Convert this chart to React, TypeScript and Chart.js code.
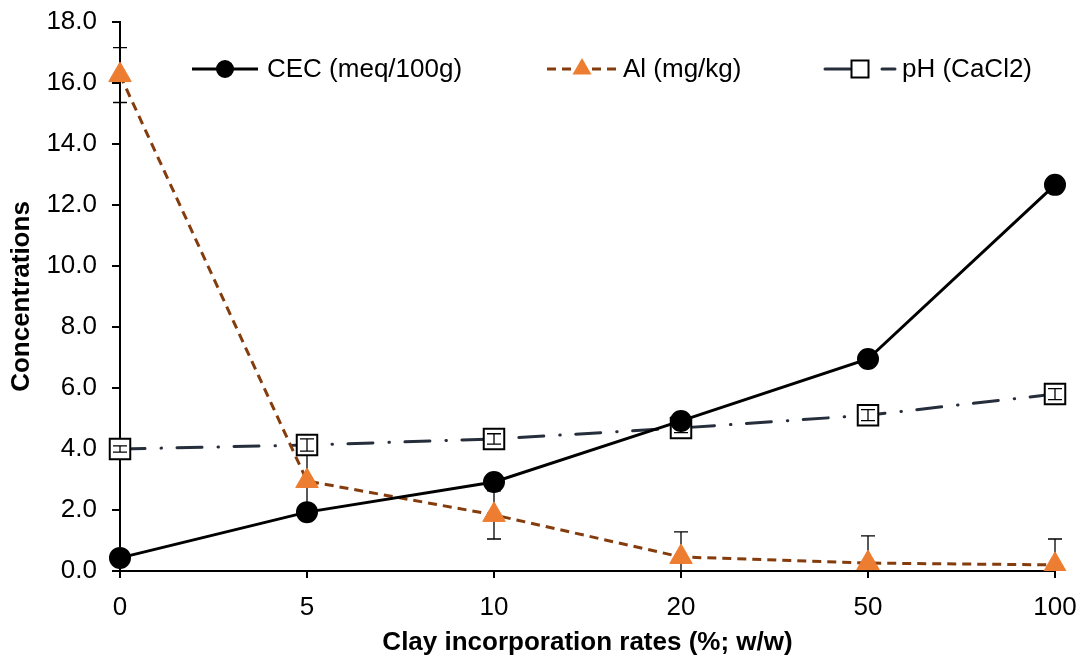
import React, { useEffect, useRef } from "react";
import { Chart, registerables } from "chart.js";

Chart.register(...registerables);

const categories = ["0", "5", "10", "20", "50", "100"];
const cecValues = [0.43, 1.93, 2.92, 4.92, 6.95, 12.66];
const cecErrors = [0.1, 0.1, 0.1, 0.1, 0.1, 0.1];
const alValues = [16.26, 2.95, 1.84, 0.46, 0.26, 0.2];
const alErrors = [0.9, 0.9, 0.79, 0.82, 0.89, 0.85];
const phValues = [4.0, 4.13, 4.33, 4.69, 5.11, 5.8];
const phErrors = [0.1, 0.2, 0.17, 0.15, 0.18, 0.18];
const seriesNames = ["CEC (meq/100g)", "Al (mg/kg)", "pH (CaCl2)"];
const yTicks = { min: 0, max: 18, step: 2 };
const yTitle = "Concentrations";
const xTitle = "Clay incorporation rates (%; w/w)";

const FONT = "'Liberation Sans', Arial, sans-serif";
const FS = 26;

const errorArrays = [cecErrors, alErrors, phErrors];

function drawErrors(chart: any, which: number[]) {
  const { ctx, chartArea, scales } = chart;
  const x = scales.x;
  const y = scales.y;
  ctx.save();
  ctx.beginPath();
  ctx.rect(chartArea.left - 10, chartArea.top - 10, chartArea.right - chartArea.left + 20, chartArea.bottom - chartArea.top + 10);
  ctx.clip();
  ctx.strokeStyle = "#000";
  ctx.lineWidth = 1.3;
  chart.data.datasets.forEach((ds: any, di: number) => {
    if (!which.includes(di)) return;
    const errs = errorArrays[di];
    ds.data.forEach((v: number, i: number) => {
      const e = errs[i];
      const px = x.getPixelForValue(i);
      const top = y.getPixelForValue(v + e);
      const bot = y.getPixelForValue(v - e);
      const cap = 7;
      ctx.beginPath();
      ctx.moveTo(px, top);
      ctx.lineTo(px, bot);
      ctx.moveTo(px - cap, top);
      ctx.lineTo(px + cap, top);
      ctx.moveTo(px - cap, bot);
      ctx.lineTo(px + cap, bot);
      ctx.stroke();
    });
  });
  ctx.restore();
}

const errorBarPlugin = {
  id: "errorBars",
  beforeDatasetsDraw(chart: any) {
    drawErrors(chart, [0, 1]);
  },
  afterDatasetsDraw(chart: any) {
    drawErrors(chart, [2]);
  },
};

const legendPlugin = {
  id: "customLegend",
  afterDraw(chart: any) {
    const { ctx } = chart;
    const yL = 69;
    const items = [
      { x0: 192, x1: 258, text: 267 },
      { x0: 547, x1: 617, text: 623 },
      { x0: 825, x1: 895, text: 902 },
    ];
    chart.data.datasets.forEach((ds: any, di: number) => {
      const it = items[di];
      ctx.save();
      ctx.strokeStyle = ds.borderColor;
      ctx.lineWidth = ds.borderWidth;
      ctx.lineCap = ds.borderCapStyle || "butt";
      ctx.setLineDash(ds.borderDash || []);
      ctx.beginPath();
      ctx.moveTo(it.x0, yL);
      ctx.lineTo(it.x1, yL);
      ctx.stroke();
      ctx.setLineDash([]);
      const cx = (it.x0 + it.x1) / 2;
      ctx.fillStyle = ds.pointBackgroundColor;
      ctx.strokeStyle = ds.pointBorderColor;
      ctx.lineWidth = ds.pointBorderWidth;
      if (ds.pointStyle === "circle") {
        ctx.beginPath();
        ctx.arc(cx, yL, 8, 0, Math.PI * 2);
        ctx.fill();
        ctx.stroke();
      } else if (ds.pointStyle === "triangle") {
        const r = 11;
        ctx.beginPath();
        ctx.moveTo(cx, yL - r);
        ctx.lineTo(cx + r * 0.866, yL + r * 0.5);
        ctx.lineTo(cx - r * 0.866, yL + r * 0.5);
        ctx.closePath();
        ctx.fill();
      } else {
        const s = 8.5;
        ctx.fillStyle = "#fff";
        ctx.fillRect(cx - s, yL - s, 2 * s, 2 * s);
        ctx.strokeRect(cx - s, yL - s, 2 * s, 2 * s);
      }
      ctx.fillStyle = "#000";
      ctx.font = `${FS}px ${FONT}`;
      ctx.textBaseline = "middle";
      ctx.textAlign = "left";
      ctx.fillText(seriesNames[di], it.text, yL + 1);
      ctx.restore();
    });
  },
};

export default function App() {
  const ref = useRef<HTMLCanvasElement | null>(null);
  useEffect(() => {
    if (!ref.current) return;
    const chart = new Chart(ref.current, {
      type: "line",
      data: {
        labels: categories,
        datasets: [
          {
            label: seriesNames[0],
            data: cecValues,
            borderColor: "#000000",
            borderWidth: 3,
            pointStyle: "circle",
            pointRadius: 10,
            pointBackgroundColor: "#000000",
            pointBorderColor: "#000000",
            pointBorderWidth: 2,
            tension: 0,
          },
          {
            label: seriesNames[1],
            data: alValues,
            borderColor: "#843C0C",
            borderWidth: 3,
            borderDash: [9, 6],
            pointStyle: "triangle",
            pointRadius: 13,
            pointBackgroundColor: "#ED7D31",
            pointBorderColor: "#ED7D31",
            pointBorderWidth: 1,
            tension: 0,
          },
          {
            label: seriesNames[2],
            data: phValues,
            borderColor: "#262E3B",
            borderWidth: 3,
            borderDash: [25, 16, 0.5, 15.5],
            borderCapStyle: "round",
            pointStyle: "rect",
            pointRadius: 14.5,
            pointBackgroundColor: "#FFFFFF",
            pointBorderColor: "#000000",
            pointBorderWidth: 2,
            tension: 0,
          },
        ] as any,
      },
      options: {
        animation: false,
        responsive: false,
        devicePixelRatio: 1,
        layout: { padding: { left: 0, top: 22, right: 28, bottom: 0 } },
        plugins: {
          legend: { display: false },
          tooltip: { enabled: false },
        },
        scales: {
          x: {
            type: "category",
            offset: false,
            grid: {
              display: true,
              drawOnChartArea: false,
              drawTicks: true,
              tickLength: 7,
              color: "#000",
              lineWidth: 2,
            },
            border: { color: "#000", width: 2 },
            ticks: {
              color: "#000",
              font: { family: FONT, size: FS },
              padding: 14,
              maxRotation: 0,
            },
            title: {
              display: true,
              text: xTitle,
              color: "#000",
              font: { family: FONT, size: FS, weight: "bold" },
              padding: { top: 0, bottom: 2 },
            },
            afterFit(scale: any) {
              scale.height = 89;
              scale.paddingLeft = 0;
              scale.paddingRight = 0;
            },
          },
          y: {
            min: yTicks.min,
            max: yTicks.max,
            grid: {
              display: true,
              drawOnChartArea: false,
              drawTicks: true,
              tickLength: 8,
              color: "#000",
              lineWidth: 2,
            },
            border: { color: "#000", width: 2 },
            ticks: {
              stepSize: yTicks.step,
              color: "#000",
              font: { family: FONT, size: FS },
              padding: 15,
              callback: (v: any) => Number(v).toFixed(1),
            },
            title: {
              display: true,
              text: yTitle,
              color: "#000",
              font: { family: FONT, size: FS, weight: "bold" },
              padding: { top: 6, bottom: 0 },
            },
            afterFit(scale: any) {
              scale.width = 120;
              scale.paddingTop = 0;
              scale.paddingBottom = 0;
            },
          },
        },
      } as any,
      plugins: [errorBarPlugin, legendPlugin],
    });
    return () => chart.destroy();
  }, []);
  return (
    <div style={{ position: "fixed", left: 0, top: 0, width: 1083, height: 660, background: "#fff" }}>
      <canvas ref={ref} width={1083} height={660} style={{ display: "block" }} />
    </div>
  );
}
